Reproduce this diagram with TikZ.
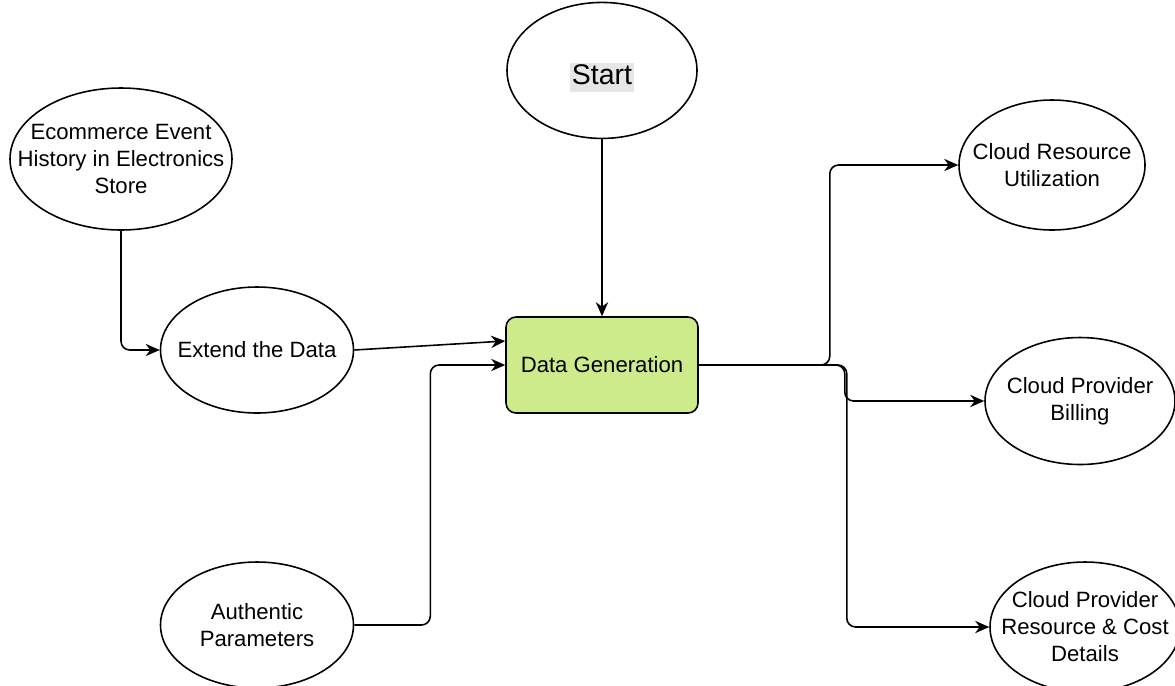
\documentclass[tikz,border=0pt]{standalone}
\usepackage{fontspec}
\setmainfont{Liberation Sans}
\usetikzlibrary{arrows.meta,shapes.geometric,positioning}

\definecolor{gengreen}{HTML}{CDEB8B}
\definecolor{hlgray}{HTML}{E6E6E6}
\newcommand{\lblsize}{\fontsize{12.6}{15.4}\selectfont}
\newcommand{\startsize}{\fontsize{16.2}{17}\selectfont}

\begin{document}
\begin{tikzpicture}[>={Stealth[length=8pt,width=7pt]}, line width=0.9pt,
  blob/.style={ellipse, draw, inner sep=-20pt, align=center, font=\lblsize},
  proc/.style={rectangle, rounded corners=0.2cm, draw, fill=gengreen,
    minimum width=3.84cm, minimum height=1.92cm, font=\lblsize},
  link/.style={->, rounded corners=5pt}]
  \useasboundingbox (0,0) rectangle (23.5,-13.7);

  % centre of the flow
  \node[proc] (gen) at (12.04,-7.3) {Data Generation};
  \node[blob, minimum width=3.8cm, minimum height=2.72cm] (start) [above=3.54cm of gen]
    {\startsize\setlength{\fboxsep}{1pt}%
     \raisebox{-3pt}[14.2pt][4pt]{\colorbox{hlgray}{\rule[-3pt]{0pt}{13.2pt}Start}}};

  % inputs
  \node[blob, minimum width=4.44cm, minimum height=2.84cm] (ecom) at (2.42,-3.18)
    {Ecommerce Event\\History in Electronics\\Store};
  \node[blob, minimum width=3.86cm, minimum height=2.52cm] (extend) at (5.14,-7.0) {Extend the Data};
  \node[blob, minimum width=3.86cm, minimum height=2.52cm] (auth) at (5.14,-12.5) {Authentic\\Parameters};

  % outputs
  \node[blob, minimum width=3.72cm, minimum height=2.6cm] (util) at (21.04,-3.3) {Cloud Resource\\Utilization};
  \node[blob, minimum width=3.8cm, minimum height=2.54cm] (billing) at (21.6,-8.02) {Cloud Provider\\Billing};
  \node[blob, minimum width=3.8cm, minimum height=2.6cm] (details) at (21.7,-12.54)
    {Cloud Provider\\Resource \& Cost\\Details};

  \draw[->] (start) -- (gen);
  \draw[link] (ecom.south) |- (extend.west);
  \draw[->] (extend.east) -- ([yshift=0.48cm]gen.west);
  \draw[link] (auth.east) -- ++(1.52,0) |- (gen.west);
  \draw[link] (gen.east) -- ++(2.62,0) |- (util.west);
  \draw[link] (gen.east) -- ++(2.92,0) |- (billing.west);
  \draw[link] (gen.east) -- ++(2.96,0) |- (details.west);
\end{tikzpicture}
\end{document}
